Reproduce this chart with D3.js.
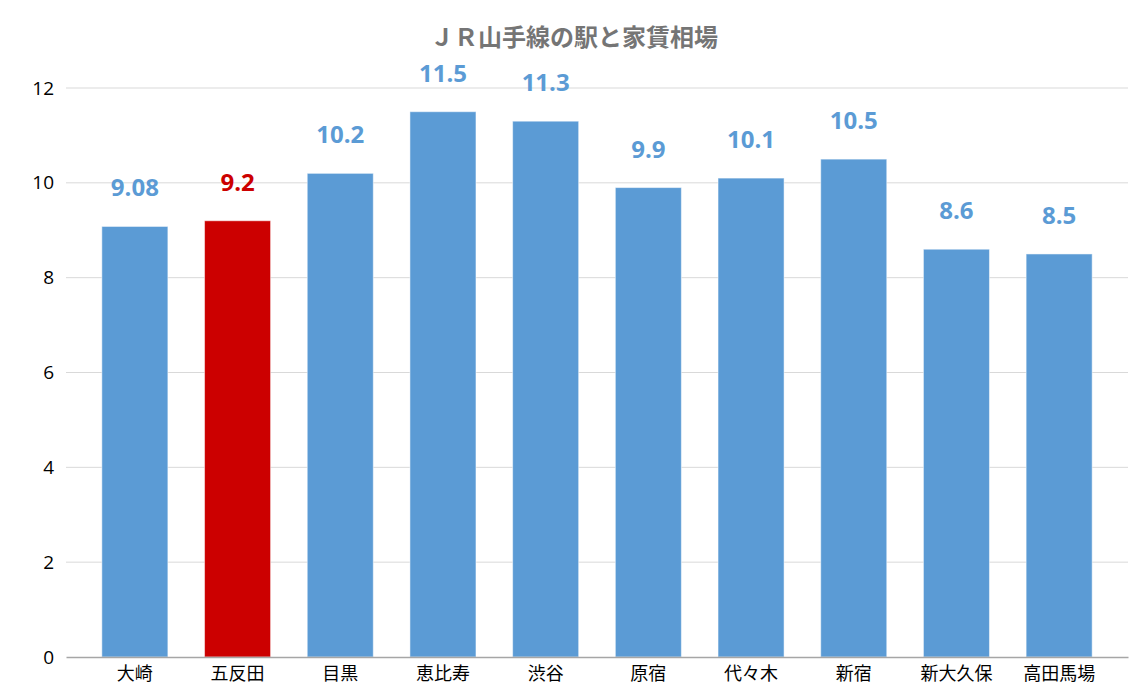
<!DOCTYPE html>
<html>
<head>
<meta charset="utf-8">
<script src="https://cdn.jsdelivr.net/npm/d3@7"></script>
<style>
  body { margin: 0; background: #fff; }
  text { font-family: "Noto Sans CJK JP", "Open Sans", sans-serif; }
</style>
</head>
<body>
<div id="container"></div>
<script>
const w = 1145;
const h = 696;
const p = {top: 88, right: 17, bottom: 39, left: 66};

const stations = ['大崎', '五反田', '目黒', '恵比寿', '渋谷', '原宿', '代々木', '新宿', '新大久保', '高田馬場'];
const rents = [9.08, 9.2, 10.2, 11.5, 11.3, 9.9, 10.1, 10.5, 8.6, 8.5];
const rentLabels = ['9.08', '9.2', '10.2', '11.5', '11.3', '9.9', '10.1', '10.5', '8.6', '8.5'];
const highlight = '五反田';
const yTicks = [0, 2, 4, 6, 8, 10, 12];

const blue = '#5b9bd5';
const red = '#cc0000';

const svg = d3.select('#container')
  .append('svg')
  .attr('width', w)
  .attr('height', h)
  .attr('viewBox', [0, 0, w, h]);

const x = d3.scaleBand()
  .domain(stations)
  .range([p.left, w - p.right])
  .paddingInner(0.357)
  .paddingOuter(0.349);

const y = d3.scaleLinear()
  .domain([0, 12])
  .range([h - p.bottom, p.top]);

// grid
svg.append('g')
  .selectAll('line')
  .data(yTicks.slice(1))
  .join('line')
  .attr('x1', p.left)
  .attr('x2', w - p.right)
  .attr('y1', d => y(d))
  .attr('y2', d => y(d))
  .attr('stroke', '#d9d9d9')
  .attr('stroke-width', 1);

// y axis labels
const yAxis = d3.axisLeft(y)
  .tickValues(yTicks)
  .tickSize(0)
  .tickPadding(12);

svg.append('g')
  .attr('transform', 'translate(' + p.left + ',0)')
  .call(yAxis)
  .call(g => g.select('.domain').remove())
  .call(g => g.selectAll('text')
    .attr('font-size', 19)
    .attr('fill', '#000')
    .style('font-family', '"Open Sans", "Noto Sans", sans-serif'));

// bars
svg.append('g')
  .selectAll('rect')
  .data(stations)
  .join('rect')
  .attr('x', d => x(d))
  .attr('y', (d, i) => y(rents[i]))
  .attr('width', x.bandwidth())
  .attr('height', (d, i) => y(0) - y(rents[i]))
  .attr('fill', d => d === highlight ? red : blue)
  .attr('stroke', '#fff')
  .attr('stroke-opacity', 0.5)
  .attr('stroke-width', 1);

// x axis
const xAxis = d3.axisBottom(x)
  .tickSize(0)
  .tickPadding(10)
  .tickSizeOuter(0);

svg.append('g')
  .attr('transform', 'translate(0,' + y(0) + ')')
  .call(xAxis)
  .call(g => g.select('.domain').attr('stroke', '#a6a6a6').attr('stroke-width', 1.5))
  .call(g => g.selectAll('text')
    .attr('font-size', 18)
    .attr('fill', '#000')
    .style('font-family', '"Noto Sans CJK JP", sans-serif'));

// value labels
svg.append('g')
  .selectAll('text')
  .data(stations)
  .join('text')
  .attr('x', d => x(d) + x.bandwidth() / 2)
  .attr('y', (d, i) => y(rents[i]) - 30)
  .attr('text-anchor', 'middle')
  .attr('font-size', 24)
  .attr('font-weight', 'bold')
  .style('font-family', '"Open Sans", "Noto Sans", sans-serif')
  .attr('fill', d => d === highlight ? red : blue)
  .text((d, i) => rentLabels[i]);

// title
svg.append('text')
  .attr('x', 574)
  .attr('y', 46)
  .attr('text-anchor', 'middle')
  .attr('font-size', 24)
  .attr('font-weight', 'bold')
  .attr('fill', '#757575')
  .text('ＪＲ山手線の駅と家賃相場');
</script>
</body>
</html>
